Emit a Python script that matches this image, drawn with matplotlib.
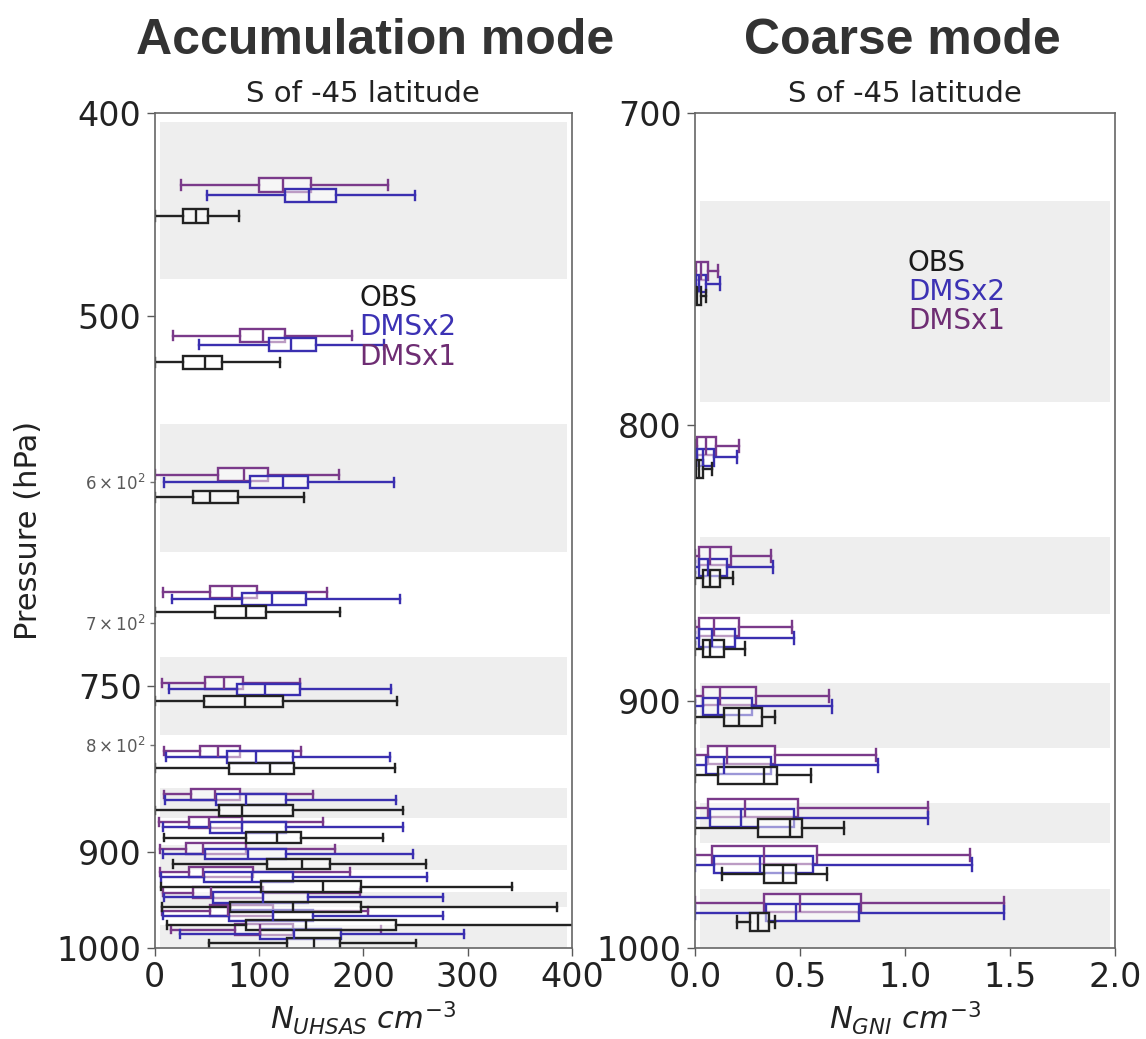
import matplotlib.pyplot as plt
import numpy as np

# pressure bin centres (hPa) and shaded bin edges
p_bins = [438, 516, 600, 682, 753, 811, 850, 876, 902, 925, 946, 965, 985]
band_lo = [404, 563, 727, 839, 893, 940, 975]
band_hi = [480, 648, 792, 867, 918, 956, 1000]

# box stats: whisker low, q1, median, q3, whisker high
acc_dms1 = [[25, 100, 123, 150, 224], [18, 82, 104, 125, 189], [0, 61, 86, 109, 177],
            [8, 53, 74, 98, 165], [7, 48, 66, 85, 139], [9, 43, 61, 82, 140],
            [9, 35, 58, 82, 152], [4, 33, 52, 84, 161], [5, 30, 46, 88, 173],
            [5, 33, 46, 94, 187], [8, 37, 54, 104, 197], [7, 53, 70, 113, 205],
            [16, 77, 101, 133, 217]]
acc_dms2 = [[50, 125, 148, 174, 250], [42, 110, 131, 155, 220], [9, 91, 123, 147, 229],
            [17, 84, 112, 145, 235], [14, 79, 106, 139, 227], [11, 69, 97, 133, 226],
            [10, 59, 88, 126, 231], [8, 53, 84, 126, 238], [8, 48, 89, 126, 248],
            [6, 47, 93, 133, 261], [9, 56, 104, 147, 276], [8, 71, 113, 152, 276],
            [24, 101, 134, 179, 297]]
acc_obs = [[0, 27, 40, 51, 81], [0, 27, 48, 65, 120], [0, 37, 53, 80, 143],
           [0, 58, 88, 107, 178], [0, 47, 87, 123, 232], [0, 71, 111, 134, 230],
           [0, 62, 84, 133, 238], [9, 88, 117, 140, 219], [18, 108, 141, 168, 260],
           [6, 102, 161, 198, 343], [7, 72, 133, 198, 386], [12, 88, 145, 231, 420],
           [52, 127, 153, 178, 251]]

crs_dms1 = [[0, 0.005, 0.03, 0.06, 0.11], [0, 0.01, 0.05, 0.10, 0.21], [0, 0.02, 0.07, 0.17, 0.36],
            [0, 0.02, 0.09, 0.21, 0.46], [0, 0.04, 0.12, 0.29, 0.64], [0, 0.06, 0.15, 0.38, 0.86],
            [0, 0.06, 0.24, 0.49, 1.11], [0, 0.08, 0.33, 0.58, 1.31], [0, 0.33, 0.50, 0.79, 1.47]]
crs_dms2 = [[0, 0.003, 0.02, 0.05, 0.12], [0, 0.01, 0.04, 0.09, 0.20], [0, 0.02, 0.06, 0.15, 0.37],
            [0, 0.02, 0.08, 0.19, 0.47], [0, 0.04, 0.11, 0.27, 0.65], [0, 0.05, 0.14, 0.36, 0.87],
            [0, 0.07, 0.22, 0.47, 1.11], [0, 0.09, 0.31, 0.56, 1.32], [0, 0.34, 0.48, 0.78, 1.47]]
crs_obs = [[0, 0.0, 0.01, 0.03, 0.05], [0, 0.005, 0.02, 0.04, 0.08], [0, 0.04, 0.07, 0.12, 0.18],
           [0, 0.04, 0.07, 0.14, 0.24], [0, 0.14, 0.21, 0.32, 0.38], [0, 0.11, 0.33, 0.39, 0.55],
           [0, 0.30, 0.45, 0.51, 0.71], [0.13, 0.33, 0.42, 0.48, 0.63], [0.20, 0.26, 0.30, 0.35, 0.38]]

labels = ['OBS', 'DMSx2', 'DMSx1']
colors = {'OBS': '#222222', 'DMSx2': '#3a2fb0', 'DMSx1': '#7a3a8a'}
text_colors = {'OBS': '#1a1a1a', 'DMSx2': '#3c32b4', 'DMSx1': '#6e2d73'}


def draw_boxes(ax, p, stats, off, wfun, color):
    st = [dict(whislo=s[0], q1=s[1], med=s[2], q3=s[3], whishi=s[4]) for s in stats]
    pos = [pp + off for pp in p]
    w = [wfun(pp) for pp in p]
    kw = dict(positions=pos, widths=w, capwidths=[0.7 * x for x in w],
              showfliers=False, patch_artist=True, manage_ticks=False,
              boxprops=dict(facecolor=(1, 1, 1, 0.5), edgecolor=color, lw=1.7),
              medianprops=dict(color=color, lw=1.7),
              whiskerprops=dict(color=color, lw=1.7),
              capprops=dict(color=color, lw=1.7))
    try:
        ax.bxp(st, orientation='horizontal', **kw)
    except TypeError:
        ax.bxp(st, vert=False, **kw)


fig = plt.figure(figsize=(11.46, 10.39), dpi=100)
ax1 = fig.add_axes([0.135, 0.0876, 0.364, 0.804])
ax2 = fig.add_axes([0.6065, 0.0876, 0.3665, 0.804])

for ax in (ax1, ax2):
    for lo, hi in zip(band_lo, band_hi):
        ax.axhspan(lo, hi, xmin=0.012, xmax=0.988, color='0.935', lw=0, zorder=0)

# accumulation mode
wl = lambda p: 6.5 * (p / 440.0) ** 0.7
draw_boxes(ax1, p_bins, acc_dms1, -5, wl, colors['DMSx1'])
draw_boxes(ax1, p_bins, acc_dms2, 0, wl, colors['DMSx2'])
draw_boxes(ax1, p_bins, acc_obs, 10, wl, colors['OBS'])

# coarse mode
wr = lambda p: 0.0075 * p
draw_boxes(ax2, p_bins[4:], crs_dms1, -4, wr, colors['DMSx1'])
draw_boxes(ax2, p_bins[4:], crs_dms2, 0, wr, colors['DMSx2'])
draw_boxes(ax2, p_bins[4:], crs_obs, 4, wr, colors['OBS'])

ax1.set_yscale('log')
ax1.set_ylim(1000, 400)
ax1.set_xlim(0, 400)
ax1.set_yticks([400, 500, 750, 900, 1000], labels=['400', '500', '750', '900', '1000'])
ax1.set_yticks([600, 700, 800], labels=[r'$\mathdefault{6\times10^{2}}$', r'$\mathdefault{7\times10^{2}}$',
                                       r'$\mathdefault{8\times10^{2}}$'], minor=True)
ax1.set_xticks([0, 100, 200, 300, 400])

ax2.set_yscale('log')
ax2.set_ylim(1000, 700)
ax2.set_xlim(0, 2.0)
ax2.set_yticks([700, 800, 900, 1000], labels=['700', '800', '900', '1000'])
ax2.set_yticks([], minor=True)
ax2.set_xticks([0, 0.5, 1.0, 1.5, 2.0], labels=['0.0', '0.5', '1.0', '1.5', '2.0'])

for ax in (ax1, ax2):
    ax.tick_params(axis='both', which='major', labelsize=24, length=6, width=1, colors='0.35', labelcolor='#222222')
    ax.tick_params(axis='y', which='minor', labelsize=12, length=3.5, width=1, colors='0.45', labelcolor='0.35')
    for s in ax.spines.values():
        s.set_color('0.4')
        s.set_linewidth(1.2)
    ax.set_title('S of -45 latitude', fontsize=21, pad=8, color='#222222')

ax1.set_ylabel('Pressure (hPa)', fontsize=22, labelpad=10, color='#222222')
ax1.set_xlabel(r'$N_{UHSAS}\ cm^{-3}$', fontsize=22, color='#222222')
ax2.set_xlabel(r'$N_{GNI}\ cm^{-3}$', fontsize=22, color='#222222')

# legend text
for ax, x0, y0 in ((ax1, 0.49, 0.778), (ax2, 0.507, 0.82)):
    for i, lab in enumerate(labels):
        ax.text(x0, y0 - i * 0.035, lab, transform=ax.transAxes, fontsize=20,
                color=text_colors[lab], va='center', ha='left')

fig.text(0.327, 0.961, 'Accumulation mode', fontsize=36, fontweight='bold',
         family='Liberation Sans', ha='center', va='center', color='#333333')
fig.text(0.787, 0.961, 'Coarse mode', fontsize=36, fontweight='bold',
         family='Liberation Sans', ha='center', va='center', color='#333333')

fig.savefig('out.png', dpi=100)
